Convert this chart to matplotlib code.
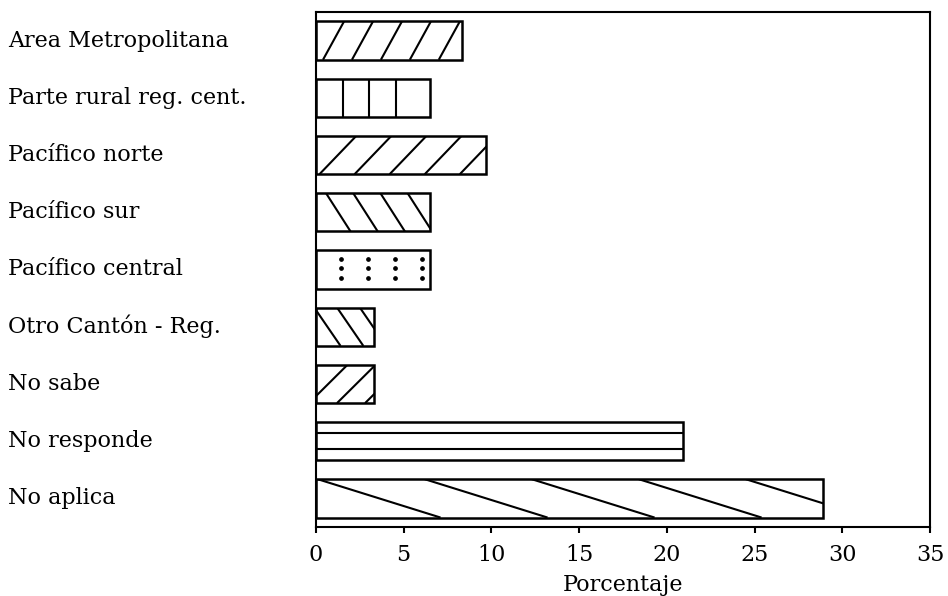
import numpy as np
import matplotlib.pyplot as plt
from matplotlib.collections import LineCollection

categorias = ["Area Metropolitana", "Parte rural reg. cent.", "Pacífico norte",
              "Pacífico sur", "Pacífico central", "Otro Cantón - Reg.",
              "No sabe", "No responde", "No aplica"]
porcentajes = [8.3, 6.5, 9.7, 6.5, 6.5, 3.3, 3.3, 20.9, 28.9]
marcas_x = [0, 5, 10, 15, 20, 25, 30, 35]

# tramado de cada barra: (tipo, separacion, inclinacion, primera linea) en unidades de x
tramas = [
    ("/", 1.65, 1.2, 0.4),
    ("|", 1.5, 0.0, 1.55),
    ("/", 2.0, 2.1, 0.2),
    ("\\", 1.55, 1.4, 0.57),
    (":", 1.55, 0.0, 1.4),
    ("\\", 1.3, 1.5, -0.1),
    ("/", 1.6, 2.2, -0.4),
    ("-", 0.0, 0.0, 0.0),
    ("\\", 6.1, 7.0, 0.1),
]

plt.rcParams['font.family'] = ['DejaVu Serif']

fig = plt.figure(figsize=(9.48, 5.96), dpi=100)
ax = fig.add_axes([0.3333, 0.1158, 0.6477, 0.8641])

pos = np.arange(len(categorias))
barras = ax.barh(pos, porcentajes, height=0.67, facecolor='none',
                 edgecolor='black', linewidth=1.8, zorder=3)


def tramar(ax, barra, tipo, sep, incl, desf):
    x0, y0 = barra.get_x(), barra.get_y()
    w, h = barra.get_width(), barra.get_height()
    segs = []
    if tipo in "/\\":
        b = desf
        while b < x0 + w:
            if tipo == "/":
                segs.append([(b, y0 + h), (b + incl, y0)])
            else:
                segs.append([(b, y0), (b + incl, y0 + h)])
            b += sep
    elif tipo == "|":
        b = desf
        while b < x0 + w - sep * 0.5:
            segs.append([(b, y0), (b, y0 + h)])
            b += sep
    elif tipo == "-":
        for f in (0.29, 0.71):
            segs.append([(x0, y0 + f * h), (x0 + w, y0 + f * h)])
    elif tipo == ":":
        xs = np.arange(desf, x0 + w - 0.3, sep)
        for f in (0.22, 0.47, 0.72):
            p, = ax.plot(xs, np.full(len(xs), y0 + f * h), 'o', color='black',
                         markersize=2.4, zorder=2)
            p.set_clip_path(barra)
        return
    lc = LineCollection(segs, colors='black', linewidths=1.5, zorder=2)
    ax.add_collection(lc)
    # el recorte va despues de add_collection, si no se pierde
    lc.set_clip_path(barra)


for barra, (tipo, sep, incl, desf) in zip(barras, tramas):
    tramar(ax, barra, tipo, sep, incl, desf)

ax.set_xlim(0, 35)
ax.set_ylim(len(categorias) - 0.5, -0.5)
ax.set_xticks(marcas_x)
ax.set_yticks(pos)
ax.set_yticklabels(categorias, fontsize=16)
for lab in ax.get_yticklabels():
    lab.set_horizontalalignment('left')
    lab.set_verticalalignment('center')
ax.tick_params(axis='y', length=0, pad=221.8)
ax.tick_params(axis='x', direction='out', length=4, width=1.5, labelsize=16, pad=8)
for lado in ax.spines.values():
    lado.set_linewidth(1.5)
ax.set_xlabel('Porcentaje', fontsize=16, labelpad=6)

fig.savefig('out.png', dpi=100)
